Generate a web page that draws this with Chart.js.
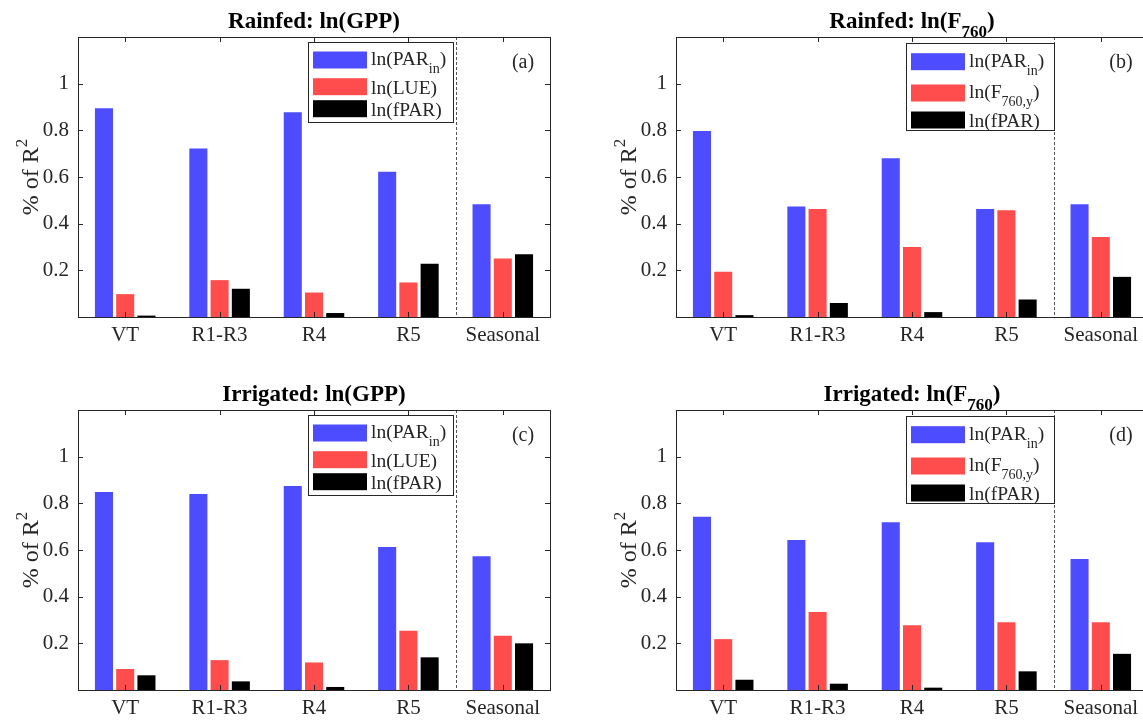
<!DOCTYPE html>
<html>
<head>
<meta charset="utf-8">
<script src="https://cdn.jsdelivr.net/npm/chart.js@4"></script>
<style>
  html, body { margin: 0; padding: 0; background: #fff; overflow: hidden; width: 1143px; height: 723px; }
  .panel { position: absolute; width: 572px; height: 362px; }
</style>
</head>
<body>
<div class="panel" style="left:0;top:0"><canvas id="cA" width="572" height="362"></canvas></div>
<div class="panel" style="left:598px;top:0"><canvas id="cB" width="572" height="362"></canvas></div>
<div class="panel" style="left:0;top:373px"><canvas id="cC" width="572" height="362"></canvas></div>
<div class="panel" style="left:598px;top:373px"><canvas id="cD" width="572" height="362"></canvas></div>
<script>
// categories + tick labels
const categories = ['VT', 'R1-R3', 'R4', 'R5', 'Seasonal'];
const yTicks = [0.2, 0.4, 0.6, 0.8, 1];

// (a) rainfed ln(GPP)
const rainGppPar  = [0.895, 0.722, 0.877, 0.622, 0.483];
const rainGppLue  = [0.098, 0.158, 0.105, 0.148, 0.251];
const rainGppFpar = [0.006, 0.121, 0.017, 0.228, 0.269];
// (b) rainfed ln(F760)
const rainFPar  = [0.797, 0.474, 0.680, 0.463, 0.483];
const rainFy    = [0.194, 0.463, 0.300, 0.458, 0.343];
const rainFFpar = [0.008, 0.060, 0.021, 0.075, 0.172];
// (c) irrigated ln(GPP)
const irrGppPar  = [0.849, 0.840, 0.874, 0.613, 0.573];
const irrGppLue  = [0.090, 0.128, 0.118, 0.254, 0.233];
const irrGppFpar = [0.063, 0.037, 0.013, 0.140, 0.200];
// (d) irrigated ln(F760)
const irrFPar  = [0.743, 0.643, 0.719, 0.633, 0.561];
const irrFy    = [0.218, 0.334, 0.278, 0.290, 0.290];
const irrFFpar = [0.044, 0.027, 0.010, 0.080, 0.155];

const gppNames = ['ln(PAR_{in})', 'ln(LUE)', 'ln(fPAR)'];
const fNames = ['ln(PAR_{in})', 'ln(F_{760,y})', 'ln(fPAR)'];
const colors = ['#4d4dff', '#ff4d4d', '#000000'];

const FONT = '"Liberation Serif", "Times New Roman", serif';
const INK = '#262626';

// split "ln(PAR_{in})" into normal / sub / sup pieces
function parseRich(s) {
  const out = [];
  let buf = '', i = 0;
  while (i < s.length) {
    const c = s[i];
    if ((c === '_' || c === '^') && s[i + 1] === '{') {
      if (buf) { out.push({ t: buf, m: '' }); buf = ''; }
      const j = s.indexOf('}', i);
      out.push({ t: s.slice(i + 2, j), m: c });
      i = j + 1;
    } else { buf += c; i++; }
  }
  if (buf) out.push({ t: buf, m: '' });
  return out;
}

function drawRich(ctx, s, x, y, size, bold, align, subDrop) {
  const segs = parseRich(s);
  const w8 = bold ? 'bold ' : '';
  const small = Math.round(size * 0.72);
  const drop = subDrop || 0.38;
  let total = 0;
  segs.forEach(g => {
    ctx.font = w8 + (g.m ? small : size) + 'px ' + FONT;
    g.w = ctx.measureText(g.t).width;
    total += g.w;
  });
  let cx = align === 'center' ? x - total / 2 : x;
  ctx.textAlign = 'left';
  ctx.textBaseline = 'alphabetic';
  segs.forEach(g => {
    ctx.font = w8 + (g.m ? small : size) + 'px ' + FONT;
    const dy = g.m === '_' ? size * drop : (g.m === '^' ? -size * 0.45 : 0);
    ctx.fillText(g.t, cx, y + dy);
    cx += g.w;
  });
}

// box, inward ticks, dashed divider, legend, title, labels
const matlabFrame = {
  id: 'matlabFrame',
  afterDatasetsDraw(chart, args, o) {
    const ctx = chart.ctx;
    const a = chart.chartArea;
    const xs = chart.scales.x, ys = chart.scales.y;
    ctx.save();
    ctx.lineWidth = 1;

    // dashed divider between R5 and Seasonal
    const dx = Math.round(xs.getPixelForValue(3.5)) + 0.5;
    ctx.setLineDash([3, 2]);
    ctx.strokeStyle = '#555';
    ctx.beginPath(); ctx.moveTo(dx, a.top); ctx.lineTo(dx, a.bottom); ctx.stroke();
    ctx.setLineDash([]);
    ctx.strokeStyle = INK;

    // axes box
    ctx.strokeRect(Math.round(a.left) + 0.5, Math.round(a.top) + 0.5,
      Math.round(a.right - a.left), Math.round(a.bottom - a.top));

    // ticks
    const tl = 5;
    ctx.beginPath();
    xs.ticks.forEach((t, i) => {
      const px = Math.round(xs.getPixelForTick(i)) + 0.5;
      ctx.moveTo(px, a.bottom); ctx.lineTo(px, a.bottom - tl);
      ctx.moveTo(px, a.top); ctx.lineTo(px, a.top + tl);
    });
    ys.ticks.forEach(t => {
      const py = Math.round(ys.getPixelForValue(t.value)) + 0.5;
      ctx.moveTo(a.left, py); ctx.lineTo(a.left + tl, py);
      ctx.moveTo(a.right, py); ctx.lineTo(a.right - tl, py);
    });
    ctx.stroke();

    // legend
    const lg = o.legend;
    const lx = dx - 0.5 - lg.gap - lg.w;
    const ly = a.top + lg.top;
    ctx.fillStyle = '#fff';
    ctx.fillRect(lx, ly, lg.w, lg.h);
    ctx.strokeStyle = INK;
    ctx.strokeRect(Math.round(lx) + 0.5, Math.round(ly) + 0.5, Math.round(lg.w), Math.round(lg.h));
    chart.data.datasets.forEach((ds, i) => {
      const cy = a.top + lg.rows[i];
      ctx.fillStyle = ds.backgroundColor;
      ctx.fillRect(lx + 5, cy - 8.5, 54, 17);
      ctx.fillStyle = INK;
      const hasSub = ds.label.indexOf('_') >= 0;
      drawRich(ctx, ds.label, lx + 63, cy + (hasSub ? 5 : 7), 19.5, false, 'left', 0.42);
    });

    // panel letter
    ctx.fillStyle = INK;
    ctx.font = '20px ' + FONT;
    ctx.textAlign = 'center';
    ctx.textBaseline = 'middle';
    ctx.fillText(o.letter, a.right - 27, a.top + 26);

    // title
    ctx.fillStyle = '#000';
    drawRich(ctx, o.title, (a.left + a.right) / 2, a.top - 9, 23, true, 'center', 0.4);

    // y axis title
    ctx.save();
    ctx.translate(a.left - 40, (a.top + a.bottom) / 2);
    ctx.rotate(-Math.PI / 2);
    ctx.fillStyle = INK;
    drawRich(ctx, '% of R^{2}', 0, 0, 24, false, 'center');
    ctx.restore();

    ctx.restore();
  }
};

function makePanel(id, title, letter, names, series, legend) {
  new Chart(document.getElementById(id), {
    type: 'bar',
    data: {
      labels: categories,
      datasets: series.map((s, i) => ({
        label: names[i],
        data: s,
        backgroundColor: colors[i],
        borderWidth: 0,
        categoryPercentage: 0.675,
        barPercentage: 0.85
      }))
    },
    options: {
      responsive: false,
      animation: false,
      layout: { padding: { left: 0, top: 37, right: 22, bottom: 0 } },
      plugins: {
        legend: { display: false },
        tooltip: { enabled: false },
        matlabFrame: { title: title, letter: letter, legend: legend }
      },
      scales: {
        x: {
          type: 'category',
          offset: true,
          grid: { display: false, drawTicks: false },
          border: { display: false },
          ticks: { color: INK, font: { family: FONT, size: 21 }, padding: 6, maxRotation: 0, autoSkip: false },
          afterFit(sc) { sc.height = 45; }
        },
        y: {
          min: 0, max: 1.2,
          grid: { display: false, drawTicks: false },
          border: { display: false },
          ticks: { color: INK, font: { family: FONT, size: 21 }, padding: 9, callback: v => String(v) },
          afterBuildTicks(sc) { sc.ticks = yTicks.map(v => ({ value: v })); },
          afterFit(sc) { sc.width = 78; }
        }
      }
    },
    plugins: [matlabFrame]
  });
}

const legGpp = { w: 145, h: 80, top: 5, gap: 3, rows: [23, 49.7, 71.7] };
const legF = { w: 148, h: 87, top: 6, gap: 0, rows: [24.7, 56, 83] };

makePanel('cA', 'Rainfed: ln(GPP)', '(a)', gppNames, [rainGppPar, rainGppLue, rainGppFpar], legGpp);
makePanel('cB', 'Rainfed: ln(F_{760})', '(b)', fNames, [rainFPar, rainFy, rainFFpar], legF);
makePanel('cC', 'Irrigated: ln(GPP)', '(c)', gppNames, [irrGppPar, irrGppLue, irrGppFpar], legGpp);
makePanel('cD', 'Irrigated: ln(F_{760})', '(d)', fNames, [irrFPar, irrFy, irrFFpar], legF);
</script>
</body>
</html>
